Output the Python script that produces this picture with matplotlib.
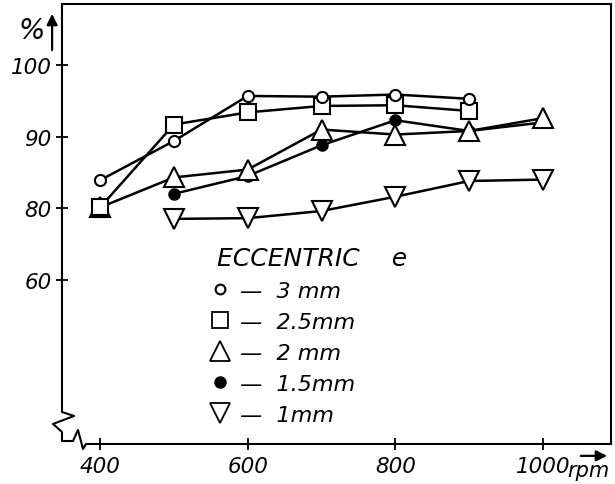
import numpy as np
import matplotlib
import matplotlib.pyplot as plt
from matplotlib.lines import Line2D

matplotlib.use("agg")

# data (efficiency % vs rpm, one series per eccentricity)
rpm_3mm = [400, 500, 600, 700, 800, 900]
eff_3mm = [83.9, 89.4, 95.7, 95.6, 95.9, 95.3]

rpm_25mm = [400, 500, 600, 700, 800, 900]
eff_25mm = [80.1, 91.7, 93.4, 94.3, 94.4, 93.6]

rpm_2mm = [400, 500, 600, 700, 800, 900, 1000]
eff_2mm = [80.1, 84.3, 85.4, 91.0, 90.3, 90.8, 92.6]

rpm_15mm = [500, 600, 700, 800, 900, 1000]
eff_15mm = [82.0, 84.5, 88.8, 92.3, 90.8, 92.0]

rpm_1mm = [500, 600, 700, 800, 900, 1000]
eff_1mm = [78.5, 78.6, 79.6, 81.6, 83.8, 84.0]

x_ticks = [400, 600, 800, 1000]
y_ticks = [100, 90, 80, 60]
legend_title = " ECCENTRIC    e"
legend_labels = ["—  3 mm", "—  2.5mm", "—  2 mm", "—  1.5mm", "—  1mm"]

plt.rcParams["font.family"] = "DejaVu Sans"
plt.rcParams["font.style"] = "italic"

# the drawn axis is squeezed below ~75 % (60 sits where 70 would be)
BRK = 75.0
SQ = 3.0


def fwd(v):
    v = np.asarray(v, dtype=float)
    return np.where(v >= BRK, v, BRK - (BRK - v) / SQ)


def inv(p):
    p = np.asarray(p, dtype=float)
    return np.where(p >= BRK, p, BRK - SQ * (BRK - p))


fig = plt.figure(figsize=(6.15, 4.85), dpi=100)
ax = fig.add_axes([0.1008, 0.0825, 0.8927, 0.9062])

lw = 1.8
common = dict(color="black", linewidth=lw, markeredgewidth=1.5, clip_on=False)
ax.plot(rpm_1mm, eff_1mm, marker="v", markersize=15, markerfacecolor="white", **common)
ax.plot(rpm_15mm, eff_15mm, marker="o", markersize=7.5, markerfacecolor="black", **common)
ax.plot(rpm_2mm, eff_2mm, marker="^", markersize=14, markerfacecolor="white", **common)
ax.plot(rpm_25mm, eff_25mm, marker="s", markersize=12, markerfacecolor="white", **common)
ax.plot(rpm_3mm, eff_3mm, marker="o", markersize=8, markerfacecolor="white", **common)

ax.set_yscale("function", functions=(fwd, inv))
ax.set_xlim(348.5, 1092)
ax.set_ylim(float(inv(47.0)), 108.5)

ax.set_xticks(x_ticks)
ax.set_xticklabels([str(t) for t in x_ticks])
ax.set_yticks(y_ticks)
ax.set_yticklabels([str(t) for t in y_ticks])
ax.yaxis.set_minor_locator(matplotlib.ticker.NullLocator())
ax.xaxis.set_minor_locator(matplotlib.ticker.NullLocator())
ax.tick_params(direction="inout", length=9, width=1.3, labelsize=15.5)
ax.tick_params(axis="x", pad=4)
ax.tick_params(axis="y", pad=3)

for s in ["top", "right"]:
    ax.spines[s].set_linewidth(1.5)
ax.spines["left"].set_visible(False)
ax.spines["bottom"].set_visible(False)

# left + bottom axis lines with the zigzag break
bx = [0, 0, 0.0219, -0.0164, 0, 0, 0.020, 0.0291, 0.0383, 0.0437, 1]
by = [1, 0.0728, 0.0637, 0.0455, 0.0273, 0.0068, 0.0068, 0.0319, -0.0114, 0, 0]
ax.plot(bx, by, color="black", linewidth=1.5, transform=ax.transAxes, clip_on=False)

# axis unit labels with arrows
ax.annotate("", xy=(-0.018, 0.985), xytext=(-0.018, 0.89), xycoords="axes fraction",
            arrowprops=dict(arrowstyle="-|>", color="black", lw=1.6, mutation_scale=16),
            annotation_clip=False)
ax.text(-0.055, 0.943, "%", transform=ax.transAxes, ha="center", va="center", fontsize=20)
ax.annotate("", xy=(0.998, -0.027), xytext=(0.94, -0.027), xycoords="axes fraction",
            arrowprops=dict(arrowstyle="-|>", color="black", lw=1.6, mutation_scale=16),
            annotation_clip=False)
ax.text(0.958, -0.06, "rpm", transform=ax.transAxes, ha="center", va="center", fontsize=15)

handles = [
    Line2D([], [], linestyle="none", marker="o", markersize=7, markerfacecolor="white",
           markeredgecolor="black", markeredgewidth=1.5),
    Line2D([], [], linestyle="none", marker="s", markersize=12, markerfacecolor="white",
           markeredgecolor="black", markeredgewidth=1.3),
    Line2D([], [], linestyle="none", marker="^", markersize=15, markerfacecolor="white",
           markeredgecolor="black", markeredgewidth=1.3),
    Line2D([], [], linestyle="none", marker="o", markersize=8, markerfacecolor="black",
           markeredgecolor="black"),
    Line2D([], [], linestyle="none", marker="v", markersize=14, markerfacecolor="white",
           markeredgecolor="black", markeredgewidth=1.3),
]
leg = ax.legend(handles, legend_labels, title=legend_title, loc="upper left",
                bbox_to_anchor=(0.24, 0.487), frameon=False, fontsize=16,
                title_fontsize=18, handlelength=1.0, handletextpad=0.4,
                labelspacing=0.5, alignment="left", borderpad=0.2)

plt.savefig("out.png")
plt.close(fig)
